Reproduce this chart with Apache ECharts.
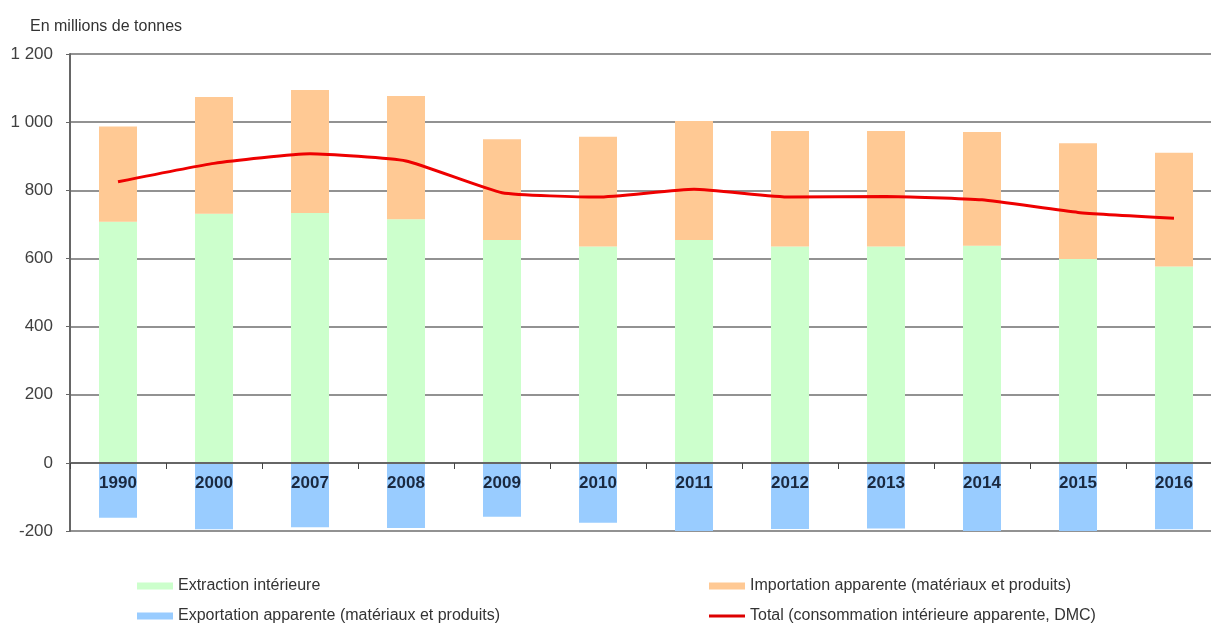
<!DOCTYPE html>
<html>
<head>
<meta charset="utf-8">
<script src="https://cdn.jsdelivr.net/npm/echarts@6/dist/echarts.min.js"></script>
<style>
  html, body { margin: 0; padding: 0; background: #fff; }
  #chart { width: 1211px; height: 623px; }
</style>
</head>
<body>
<div id="chart"></div>
<script>
// values in millions of tonnes
const years = ['1990', '2000', '2007', '2008', '2009', '2010', '2011', '2012', '2013', '2014', '2015', '2016'];
const extraction = [708, 731, 733, 715, 654, 635, 654, 635, 635, 637, 598, 576];
const importation = [279, 343, 361, 362, 296, 322, 349, 339, 339, 334, 340, 334];
const exportation = [-161, -195, -189, -191, -158, -176, -202, -194, -193, -200, -201, -195];
const dmc = [825, 879, 907, 886, 793, 780, 803, 780, 782, 772, 735, 718];

const names = {
    ext: 'Extraction intérieure',
    imp: 'Importation apparente (matériaux et produits)',
    exp: 'Exportation apparente (matériaux et produits)',
    dmc: 'Total (consommation intérieure apparente, DMC)',
};

const font = 'Liberation Sans, Arial, sans-serif';
const chart = echarts.init(document.getElementById('chart'));

// one legend per entry so the 2x2 layout matches the original
function legendItem(name, left, top, height) {
    return {
        left: left,
        top: top,
        padding: 0,
        icon: 'rect',
        itemWidth: 36,
        itemHeight: height,
        data: [name],
        textStyle: { fontFamily: font, fontSize: 16, color: '#333' },
    };
}

const option = {
    animation: false,
    title: {
        text: 'En millions de tonnes',
        left: 25,
        top: 14,
        textStyle: { fontFamily: font, fontSize: 16, fontWeight: 'normal', color: '#333' },
    },
    legend: [
        legendItem(names.ext, 137, 578, 7),
        legendItem(names.exp, 137, 608, 7),
        legendItem(names.imp, 709, 578, 7),
        legendItem(names.dmc, 709, 608, 3),
    ],
    grid: { left: 70, width: 1152, top: 54, height: 477, outerBoundsMode: 'none' },
    xAxis: {
        type: 'category',
        data: years,
        z: 10,
        offset: -68,
        axisLine: { onZero: false, lineStyle: { color: '#666', width: 2 } },
        axisTick: { show: true, length: 6, lineStyle: { color: '#444' } },
        axisLabel: {
            margin: 12,
            fontFamily: font,
            fontSize: 17,
            fontWeight: 'bold',
            color: '#1a2940',
        },
    },
    yAxis: {
        type: 'value',
        min: -200,
        max: 1200,
        interval: 200,
        axisLine: { show: true, lineStyle: { color: '#666', width: 2 } },
        axisTick: { show: true, length: 4, lineStyle: { color: '#666' } },
        axisLabel: {
            margin: 17,
            fontFamily: font,
            fontSize: 17,
            color: '#404040',
            formatter: (v) => String(v).replace(/\B(?=(\d{3})+(?!\d))/g, ' '),
        },
        splitLine: { lineStyle: { color: '#6e6e6e', width: 1.5 } },
    },
    series: [
        {
            name: names.ext,
            type: 'bar',
            stack: 'flux',
            barWidth: 38,
            itemStyle: { color: '#ccffcc' },
            data: extraction,
        },
        {
            name: names.imp,
            type: 'bar',
            stack: 'flux',
            barWidth: 38,
            itemStyle: { color: '#ffc994' },
            data: importation,
        },
        {
            name: names.exp,
            type: 'bar',
            stack: 'flux',
            barWidth: 38,
            itemStyle: { color: '#99ccff' },
            data: exportation,
        },
        {
            name: names.dmc,
            type: 'line',
            symbol: 'none',
            smooth: 0.15,
            lineStyle: { color: '#ee0000', width: 3 },
            itemStyle: { color: '#dd0000' },
            data: dmc,
        },
    ],
};

chart.setOption(option);
</script>
</body>
</html>
